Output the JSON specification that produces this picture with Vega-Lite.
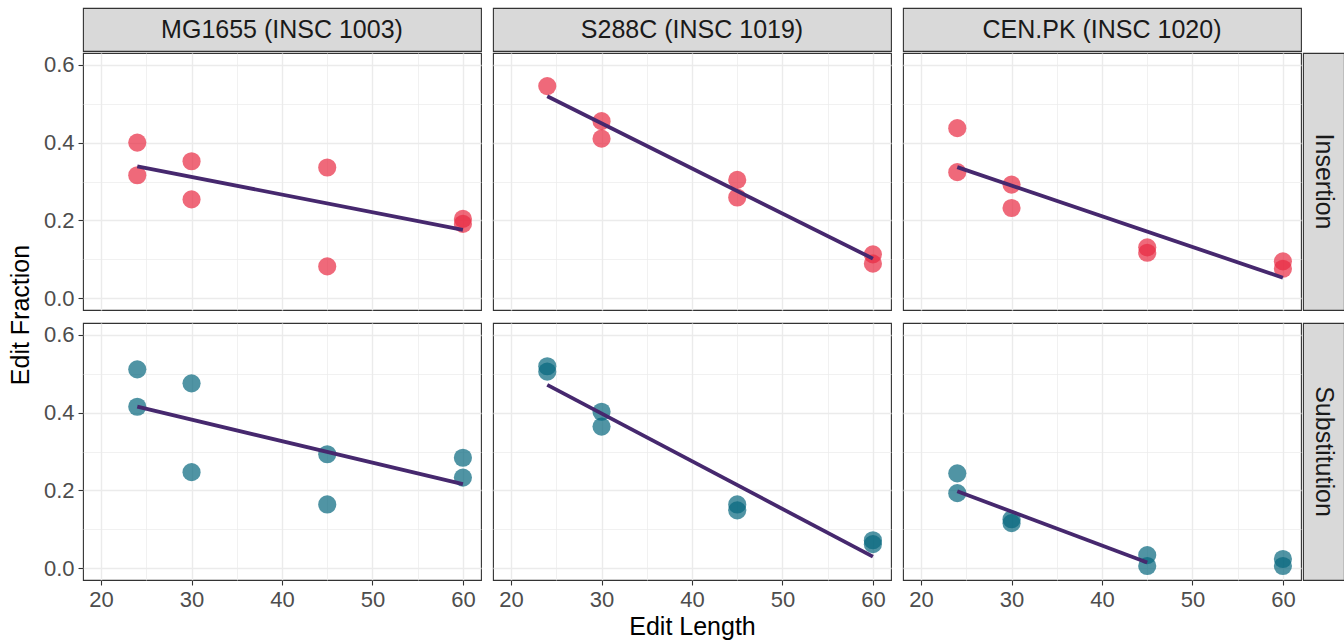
{
  "$schema": "https://vega.github.io/schema/vega-lite/v6.json",
  "background": "white",
  "padding": {"left": 0, "top": 7, "right": 0, "bottom": 0},
  "datasets": {
    "pts": [
      {"strain": "MG1655 (INSC 1003)", "type": "Insertion", "length": 24, "fraction": 0.400},
      {"strain": "MG1655 (INSC 1003)", "type": "Insertion", "length": 24, "fraction": 0.316},
      {"strain": "MG1655 (INSC 1003)", "type": "Insertion", "length": 30, "fraction": 0.352},
      {"strain": "MG1655 (INSC 1003)", "type": "Insertion", "length": 30, "fraction": 0.254},
      {"strain": "MG1655 (INSC 1003)", "type": "Insertion", "length": 45, "fraction": 0.336},
      {"strain": "MG1655 (INSC 1003)", "type": "Insertion", "length": 45, "fraction": 0.082},
      {"strain": "MG1655 (INSC 1003)", "type": "Insertion", "length": 60, "fraction": 0.204},
      {"strain": "MG1655 (INSC 1003)", "type": "Insertion", "length": 60, "fraction": 0.191},
      {"strain": "S288C (INSC 1019)", "type": "Insertion", "length": 24, "fraction": 0.545},
      {"strain": "S288C (INSC 1019)", "type": "Insertion", "length": 30, "fraction": 0.455},
      {"strain": "S288C (INSC 1019)", "type": "Insertion", "length": 30, "fraction": 0.410},
      {"strain": "S288C (INSC 1019)", "type": "Insertion", "length": 45, "fraction": 0.304},
      {"strain": "S288C (INSC 1019)", "type": "Insertion", "length": 45, "fraction": 0.259},
      {"strain": "S288C (INSC 1019)", "type": "Insertion", "length": 60, "fraction": 0.113},
      {"strain": "S288C (INSC 1019)", "type": "Insertion", "length": 60, "fraction": 0.089},
      {"strain": "CEN.PK (INSC 1020)", "type": "Insertion", "length": 24, "fraction": 0.437},
      {"strain": "CEN.PK (INSC 1020)", "type": "Insertion", "length": 24, "fraction": 0.324},
      {"strain": "CEN.PK (INSC 1020)", "type": "Insertion", "length": 30, "fraction": 0.292},
      {"strain": "CEN.PK (INSC 1020)", "type": "Insertion", "length": 30, "fraction": 0.232},
      {"strain": "CEN.PK (INSC 1020)", "type": "Insertion", "length": 45, "fraction": 0.131},
      {"strain": "CEN.PK (INSC 1020)", "type": "Insertion", "length": 45, "fraction": 0.117},
      {"strain": "CEN.PK (INSC 1020)", "type": "Insertion", "length": 60, "fraction": 0.095},
      {"strain": "CEN.PK (INSC 1020)", "type": "Insertion", "length": 60, "fraction": 0.076},
      {"strain": "MG1655 (INSC 1003)", "type": "Substitution", "length": 24, "fraction": 0.511},
      {"strain": "MG1655 (INSC 1003)", "type": "Substitution", "length": 24, "fraction": 0.415},
      {"strain": "MG1655 (INSC 1003)", "type": "Substitution", "length": 30, "fraction": 0.475},
      {"strain": "MG1655 (INSC 1003)", "type": "Substitution", "length": 30, "fraction": 0.247},
      {"strain": "MG1655 (INSC 1003)", "type": "Substitution", "length": 45, "fraction": 0.293},
      {"strain": "MG1655 (INSC 1003)", "type": "Substitution", "length": 45, "fraction": 0.164},
      {"strain": "MG1655 (INSC 1003)", "type": "Substitution", "length": 60, "fraction": 0.284},
      {"strain": "MG1655 (INSC 1003)", "type": "Substitution", "length": 60, "fraction": 0.233},
      {"strain": "S288C (INSC 1019)", "type": "Substitution", "length": 24, "fraction": 0.519},
      {"strain": "S288C (INSC 1019)", "type": "Substitution", "length": 24, "fraction": 0.505},
      {"strain": "S288C (INSC 1019)", "type": "Substitution", "length": 30, "fraction": 0.402},
      {"strain": "S288C (INSC 1019)", "type": "Substitution", "length": 30, "fraction": 0.364},
      {"strain": "S288C (INSC 1019)", "type": "Substitution", "length": 45, "fraction": 0.164},
      {"strain": "S288C (INSC 1019)", "type": "Substitution", "length": 45, "fraction": 0.149},
      {"strain": "S288C (INSC 1019)", "type": "Substitution", "length": 60, "fraction": 0.072},
      {"strain": "S288C (INSC 1019)", "type": "Substitution", "length": 60, "fraction": 0.062},
      {"strain": "CEN.PK (INSC 1020)", "type": "Substitution", "length": 24, "fraction": 0.244},
      {"strain": "CEN.PK (INSC 1020)", "type": "Substitution", "length": 24, "fraction": 0.193},
      {"strain": "CEN.PK (INSC 1020)", "type": "Substitution", "length": 30, "fraction": 0.126},
      {"strain": "CEN.PK (INSC 1020)", "type": "Substitution", "length": 30, "fraction": 0.116},
      {"strain": "CEN.PK (INSC 1020)", "type": "Substitution", "length": 45, "fraction": 0.034},
      {"strain": "CEN.PK (INSC 1020)", "type": "Substitution", "length": 45, "fraction": 0.006},
      {"strain": "CEN.PK (INSC 1020)", "type": "Substitution", "length": 60, "fraction": 0.024},
      {"strain": "CEN.PK (INSC 1020)", "type": "Substitution", "length": 60, "fraction": 0.006}
    ],
    "fits": [
      {"strain": "MG1655 (INSC 1003)", "type": "Insertion", "length": 24, "fraction": 0.339},
      {"strain": "MG1655 (INSC 1003)", "type": "Insertion", "length": 60, "fraction": 0.176},
      {"strain": "S288C (INSC 1019)", "type": "Insertion", "length": 24, "fraction": 0.519},
      {"strain": "S288C (INSC 1019)", "type": "Insertion", "length": 60, "fraction": 0.102},
      {"strain": "CEN.PK (INSC 1020)", "type": "Insertion", "length": 24, "fraction": 0.337},
      {"strain": "CEN.PK (INSC 1020)", "type": "Insertion", "length": 60, "fraction": 0.053},
      {"strain": "MG1655 (INSC 1003)", "type": "Substitution", "length": 24, "fraction": 0.415},
      {"strain": "MG1655 (INSC 1003)", "type": "Substitution", "length": 60, "fraction": 0.216},
      {"strain": "S288C (INSC 1019)", "type": "Substitution", "length": 24, "fraction": 0.471},
      {"strain": "S288C (INSC 1019)", "type": "Substitution", "length": 60, "fraction": 0.030},
      {"strain": "CEN.PK (INSC 1020)", "type": "Substitution", "length": 24, "fraction": 0.198},
      {"strain": "CEN.PK (INSC 1020)", "type": "Substitution", "length": 45, "fraction": 0.015}
    ]
  },
  "hconcat": [
    {
      "data": {"values": [{"t": "Edit Fraction"}]},
      "mark": {"type": "text", "angle": 270, "fontSize": 25, "color": "#000000", "font": "Liberation Sans"},
      "encoding": {"text": {"field": "t", "type": "nominal"}},
      "width": 42, "height": 614,
      "view": {"stroke": null}
    },
    {
      "columns": 4,
      "spacing": 0,
      "concat": [
        {
          "data": {"values": [{"label": "MG1655 (INSC 1003)"}]},
          "mark": {"type": "text", "fontSize": 25, "color": "#1a1a1a", "font": "Liberation Sans"},
          "encoding": {"text": {"field": "label", "type": "nominal"}},
          "width": 398, "height": 43,
          "view": {"fill": "#d9d9d9", "stroke": "#333333", "strokeWidth": 1.1}
        },
        {
          "data": {"values": [{"label": "S288C (INSC 1019)"}]},
          "mark": {"type": "text", "fontSize": 25, "color": "#1a1a1a", "font": "Liberation Sans"},
          "encoding": {"text": {"field": "label", "type": "nominal"}},
          "width": 398, "height": 43,
          "view": {"fill": "#d9d9d9", "stroke": "#333333", "strokeWidth": 1.1}
        },
        {
          "data": {"values": [{"label": "CEN.PK (INSC 1020)"}]},
          "mark": {"type": "text", "fontSize": 25, "color": "#1a1a1a", "font": "Liberation Sans"},
          "encoding": {"text": {"field": "label", "type": "nominal"}},
          "width": 398, "height": 43,
          "view": {"fill": "#d9d9d9", "stroke": "#333333", "strokeWidth": 1.1}
        },
        {
          "data": {"values": [{"label": ""}]},
          "mark": {"type": "text"},
          "encoding": {"text": {"field": "label", "type": "nominal"}},
          "width": 41, "height": 43,
          "view": {"stroke": null}
        },
        {
          "width": 398, "height": 257,
          "layer": [
            {
              "data": {"name": "pts"},
              "transform": [{"filter": "datum.strain === 'MG1655 (INSC 1003)' && datum.type === 'Insertion'"}],
              "mark": {"type": "circle", "size": 330, "opacity": 0.7},
              "encoding": {
                "x": {"field": "length", "type": "quantitative", "scale": {"domain": [18, 62], "nice": false, "zero": false},
                      "axis": {"values": [20, 25, 30, 35, 40, 45, 50, 55, 60], "labels": false, "ticks": false, "title": null, "minExtent": 11, "maxExtent": 11,
                               "gridWidth": {"condition": {"test": "datum.value % 10 === 0", "value": 1.4}, "value": 0.7}}},
                "y": {"field": "fraction", "type": "quantitative", "scale": {"domain": [-0.03, 0.63], "nice": false, "zero": false},
                      "axis": {"values": [0, 0.1, 0.2, 0.3, 0.4, 0.5, 0.6], "format": ".1f", "title": null,
                               "labelExpr": "round(datum.value * 10) % 2 === 0 ? datum.label : ''",
                               "tickOpacity": {"condition": {"test": "round(datum.value * 10) % 2 === 0", "value": 1}, "value": 0},
                               "gridWidth": {"condition": {"test": "round(datum.value * 10) % 2 === 0", "value": 1.4}, "value": 0.7}}},
                "color": {"field": "type", "type": "nominal", "scale": {"domain": ["Insertion", "Substitution"], "range": ["#E82A41", "#05667E"]}, "legend": null}
              }
            },
            {
              "data": {"name": "fits"},
              "transform": [{"filter": "datum.strain === 'MG1655 (INSC 1003)' && datum.type === 'Insertion'"}],
              "mark": {"type": "line", "color": "#46286E", "strokeWidth": 3.8},
              "encoding": {"x": {"field": "length", "type": "quantitative"}, "y": {"field": "fraction", "type": "quantitative"}}
            }
          ]
        },
        {
          "width": 398, "height": 257,
          "layer": [
            {
              "data": {"name": "pts"},
              "transform": [{"filter": "datum.strain === 'S288C (INSC 1019)' && datum.type === 'Insertion'"}],
              "mark": {"type": "circle", "size": 330, "opacity": 0.7},
              "encoding": {
                "x": {"field": "length", "type": "quantitative", "scale": {"domain": [18, 62], "nice": false, "zero": false},
                      "axis": {"values": [20, 25, 30, 35, 40, 45, 50, 55, 60], "labels": false, "ticks": false, "title": null, "minExtent": 11, "maxExtent": 11,
                               "gridWidth": {"condition": {"test": "datum.value % 10 === 0", "value": 1.4}, "value": 0.7}}},
                "y": {"field": "fraction", "type": "quantitative", "scale": {"domain": [-0.03, 0.63], "nice": false, "zero": false},
                      "axis": {"values": [0, 0.1, 0.2, 0.3, 0.4, 0.5, 0.6], "labels": false, "ticks": false, "title": null, "minExtent": 10, "maxExtent": 10,
                               "gridWidth": {"condition": {"test": "round(datum.value * 10) % 2 === 0", "value": 1.4}, "value": 0.7}}},
                "color": {"field": "type", "type": "nominal", "scale": {"domain": ["Insertion", "Substitution"], "range": ["#E82A41", "#05667E"]}, "legend": null}
              }
            },
            {
              "data": {"name": "fits"},
              "transform": [{"filter": "datum.strain === 'S288C (INSC 1019)' && datum.type === 'Insertion'"}],
              "mark": {"type": "line", "color": "#46286E", "strokeWidth": 3.8},
              "encoding": {"x": {"field": "length", "type": "quantitative"}, "y": {"field": "fraction", "type": "quantitative"}}
            }
          ]
        },
        {
          "width": 398, "height": 257,
          "layer": [
            {
              "data": {"name": "pts"},
              "transform": [{"filter": "datum.strain === 'CEN.PK (INSC 1020)' && datum.type === 'Insertion'"}],
              "mark": {"type": "circle", "size": 330, "opacity": 0.7},
              "encoding": {
                "x": {"field": "length", "type": "quantitative", "scale": {"domain": [18, 62], "nice": false, "zero": false},
                      "axis": {"values": [20, 25, 30, 35, 40, 45, 50, 55, 60], "labels": false, "ticks": false, "title": null, "minExtent": 11, "maxExtent": 11,
                               "gridWidth": {"condition": {"test": "datum.value % 10 === 0", "value": 1.4}, "value": 0.7}}},
                "y": {"field": "fraction", "type": "quantitative", "scale": {"domain": [-0.03, 0.63], "nice": false, "zero": false},
                      "axis": {"values": [0, 0.1, 0.2, 0.3, 0.4, 0.5, 0.6], "labels": false, "ticks": false, "title": null, "minExtent": 10, "maxExtent": 10,
                               "gridWidth": {"condition": {"test": "round(datum.value * 10) % 2 === 0", "value": 1.4}, "value": 0.7}}},
                "color": {"field": "type", "type": "nominal", "scale": {"domain": ["Insertion", "Substitution"], "range": ["#E82A41", "#05667E"]}, "legend": null}
              }
            },
            {
              "data": {"name": "fits"},
              "transform": [{"filter": "datum.strain === 'CEN.PK (INSC 1020)' && datum.type === 'Insertion'"}],
              "mark": {"type": "line", "color": "#46286E", "strokeWidth": 3.8},
              "encoding": {"x": {"field": "length", "type": "quantitative"}, "y": {"field": "fraction", "type": "quantitative"}}
            }
          ]
        },
        {
          "data": {"values": [{"label": "Insertion"}]},
          "mark": {"type": "text", "angle": 90, "fontSize": 25, "color": "#1a1a1a", "font": "Liberation Sans"},
          "encoding": {"text": {"field": "label", "type": "nominal"}},
          "width": 41, "height": 257,
          "view": {"fill": "#d9d9d9", "stroke": "#333333", "strokeWidth": 1.1}
        },
        {
          "width": 398, "height": 257,
          "layer": [
            {
              "data": {"name": "pts"},
              "transform": [{"filter": "datum.strain === 'MG1655 (INSC 1003)' && datum.type === 'Substitution'"}],
              "mark": {"type": "circle", "size": 330, "opacity": 0.7},
              "encoding": {
                "x": {"field": "length", "type": "quantitative", "scale": {"domain": [18, 62], "nice": false, "zero": false},
                      "axis": {"values": [20, 25, 30, 35, 40, 45, 50, 55, 60], "title": null,
                               "labelExpr": "datum.value % 10 === 0 ? datum.label : ''",
                               "tickOpacity": {"condition": {"test": "datum.value % 10 === 0", "value": 1}, "value": 0},
                               "gridWidth": {"condition": {"test": "datum.value % 10 === 0", "value": 1.4}, "value": 0.7}}},
                "y": {"field": "fraction", "type": "quantitative", "scale": {"domain": [-0.03, 0.63], "nice": false, "zero": false},
                      "axis": {"values": [0, 0.1, 0.2, 0.3, 0.4, 0.5, 0.6], "format": ".1f", "title": null,
                               "labelExpr": "round(datum.value * 10) % 2 === 0 ? datum.label : ''",
                               "tickOpacity": {"condition": {"test": "round(datum.value * 10) % 2 === 0", "value": 1}, "value": 0},
                               "gridWidth": {"condition": {"test": "round(datum.value * 10) % 2 === 0", "value": 1.4}, "value": 0.7}}},
                "color": {"field": "type", "type": "nominal", "scale": {"domain": ["Insertion", "Substitution"], "range": ["#E82A41", "#05667E"]}, "legend": null}
              }
            },
            {
              "data": {"name": "fits"},
              "transform": [{"filter": "datum.strain === 'MG1655 (INSC 1003)' && datum.type === 'Substitution'"}],
              "mark": {"type": "line", "color": "#46286E", "strokeWidth": 3.8},
              "encoding": {"x": {"field": "length", "type": "quantitative"}, "y": {"field": "fraction", "type": "quantitative"}}
            }
          ]
        },
        {
          "width": 398, "height": 257,
          "layer": [
            {
              "data": {"name": "pts"},
              "transform": [{"filter": "datum.strain === 'S288C (INSC 1019)' && datum.type === 'Substitution'"}],
              "mark": {"type": "circle", "size": 330, "opacity": 0.7},
              "encoding": {
                "x": {"field": "length", "type": "quantitative", "scale": {"domain": [18, 62], "nice": false, "zero": false},
                      "axis": {"values": [20, 25, 30, 35, 40, 45, 50, 55, 60], "title": "Edit Length",
                               "labelExpr": "datum.value % 10 === 0 ? datum.label : ''",
                               "tickOpacity": {"condition": {"test": "datum.value % 10 === 0", "value": 1}, "value": 0},
                               "gridWidth": {"condition": {"test": "datum.value % 10 === 0", "value": 1.4}, "value": 0.7}}},
                "y": {"field": "fraction", "type": "quantitative", "scale": {"domain": [-0.03, 0.63], "nice": false, "zero": false},
                      "axis": {"values": [0, 0.1, 0.2, 0.3, 0.4, 0.5, 0.6], "labels": false, "ticks": false, "title": null, "minExtent": 10, "maxExtent": 10,
                               "gridWidth": {"condition": {"test": "round(datum.value * 10) % 2 === 0", "value": 1.4}, "value": 0.7}}},
                "color": {"field": "type", "type": "nominal", "scale": {"domain": ["Insertion", "Substitution"], "range": ["#E82A41", "#05667E"]}, "legend": null}
              }
            },
            {
              "data": {"name": "fits"},
              "transform": [{"filter": "datum.strain === 'S288C (INSC 1019)' && datum.type === 'Substitution'"}],
              "mark": {"type": "line", "color": "#46286E", "strokeWidth": 3.8},
              "encoding": {"x": {"field": "length", "type": "quantitative"}, "y": {"field": "fraction", "type": "quantitative"}}
            }
          ]
        },
        {
          "width": 398, "height": 257,
          "layer": [
            {
              "data": {"name": "pts"},
              "transform": [{"filter": "datum.strain === 'CEN.PK (INSC 1020)' && datum.type === 'Substitution'"}],
              "mark": {"type": "circle", "size": 330, "opacity": 0.7},
              "encoding": {
                "x": {"field": "length", "type": "quantitative", "scale": {"domain": [18, 62], "nice": false, "zero": false},
                      "axis": {"values": [20, 25, 30, 35, 40, 45, 50, 55, 60], "title": null,
                               "labelExpr": "datum.value % 10 === 0 ? datum.label : ''",
                               "tickOpacity": {"condition": {"test": "datum.value % 10 === 0", "value": 1}, "value": 0},
                               "gridWidth": {"condition": {"test": "datum.value % 10 === 0", "value": 1.4}, "value": 0.7}}},
                "y": {"field": "fraction", "type": "quantitative", "scale": {"domain": [-0.03, 0.63], "nice": false, "zero": false},
                      "axis": {"values": [0, 0.1, 0.2, 0.3, 0.4, 0.5, 0.6], "labels": false, "ticks": false, "title": null, "minExtent": 10, "maxExtent": 10,
                               "gridWidth": {"condition": {"test": "round(datum.value * 10) % 2 === 0", "value": 1.4}, "value": 0.7}}},
                "color": {"field": "type", "type": "nominal", "scale": {"domain": ["Insertion", "Substitution"], "range": ["#E82A41", "#05667E"]}, "legend": null}
              }
            },
            {
              "data": {"name": "fits"},
              "transform": [{"filter": "datum.strain === 'CEN.PK (INSC 1020)' && datum.type === 'Substitution'"}],
              "mark": {"type": "line", "color": "#46286E", "strokeWidth": 3.8},
              "encoding": {"x": {"field": "length", "type": "quantitative"}, "y": {"field": "fraction", "type": "quantitative"}}
            }
          ]
        },
        {
          "data": {"values": [{"label": "Substitution"}]},
          "mark": {"type": "text", "angle": 90, "fontSize": 25, "color": "#1a1a1a", "font": "Liberation Sans"},
          "encoding": {"text": {"field": "label", "type": "nominal"}},
          "width": 41, "height": 257,
          "view": {"fill": "#d9d9d9", "stroke": "#333333", "strokeWidth": 1.1}
        }
      ]
    }
  ],
  "spacing": 0,
  "config": {
    "view": {"stroke": "#333333", "strokeWidth": 1.1},
    "axis": {
      "domain": false,
      "gridColor": "#ebebeb",
      "labelFont": "Liberation Sans",
      "labelFontSize": 22,
      "labelColor": "#4d4d4d",
      "labelOverlap": false,
      "labelFlush": false,
      "labelPadding": 4,
      "tickColor": "#333333",
      "tickSize": 5,
      "tickWidth": 1.1,
      "titleFont": "Liberation Sans",
      "titleFontSize": 25,
      "titleFontWeight": "normal",
      "titleColor": "#000000",
      "titlePadding": 4
    }
  }
}
